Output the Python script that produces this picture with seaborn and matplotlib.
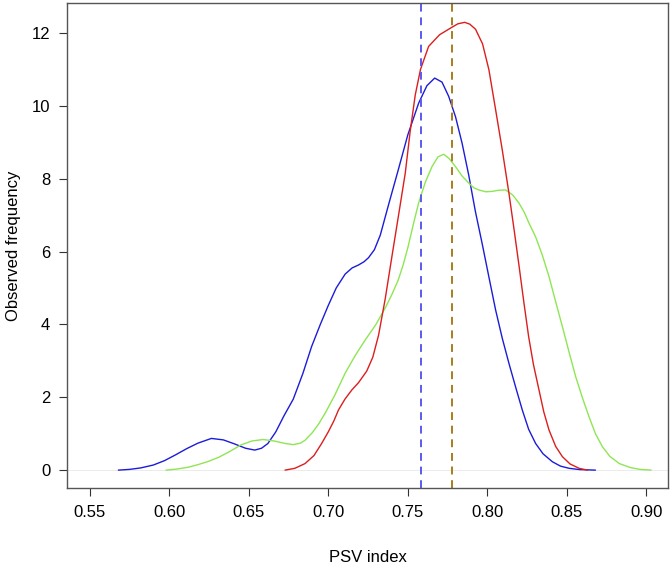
import numpy as np
import pandas as pd
import matplotlib
matplotlib.use("Agg")
import matplotlib.pyplot as plt
import seaborn as sns

# density curves (x = PSV index, y = density)
blue_x = [0.568, 0.575, 0.582, 0.590, 0.597, 0.604, 0.611, 0.618, 0.6265, 0.634,
          0.641, 0.648, 0.6538, 0.658, 0.662, 0.667, 0.672, 0.678, 0.684, 0.6895,
          0.695, 0.700, 0.705, 0.7106, 0.715, 0.719, 0.7225, 0.7253, 0.729, 0.7327,
          0.738, 0.744, 0.750, 0.7568, 0.762, 0.7669, 0.7715, 0.7757, 0.780, 0.7841,
          0.7883, 0.7925, 0.7967, 0.801, 0.8052, 0.8094, 0.8136, 0.818, 0.822, 0.826,
          0.8304, 0.835, 0.8409, 0.846, 0.8514, 0.858, 0.868]
blue_y = [0.0, 0.02, 0.06, 0.14, 0.26, 0.42, 0.59, 0.74, 0.87, 0.83,
          0.72, 0.60, 0.55, 0.60, 0.73, 1.05, 1.48, 1.95, 2.65, 3.39,
          4.0, 4.52, 5.0, 5.38, 5.55, 5.63, 5.72, 5.83, 6.05, 6.45,
          7.3, 8.24, 9.2, 10.07, 10.55, 10.76, 10.65, 10.26, 9.7, 8.98,
          8.10, 7.1, 6.23, 5.3, 4.40, 3.62, 2.93, 2.25, 1.65, 1.12,
          0.73, 0.45, 0.23, 0.11, 0.05, 0.015, 0.0]

red_x = [0.6728, 0.679, 0.6854, 0.691, 0.6958, 0.700, 0.7035, 0.7064, 0.7105, 0.7148,
         0.719, 0.7242, 0.728, 0.7316, 0.7358, 0.740, 0.7442, 0.7484, 0.7515, 0.7547,
         0.758, 0.7631, 0.770, 0.7768, 0.7815, 0.7858, 0.789, 0.7926, 0.797, 0.801,
         0.805, 0.8094, 0.8136, 0.817, 0.820, 0.823, 0.826, 0.829, 0.8325, 0.8355,
         0.8388, 0.843, 0.8472, 0.852, 0.8577, 0.863]
red_y = [0.0, 0.05, 0.18, 0.40, 0.73, 1.05, 1.35, 1.65, 1.95, 2.20,
         2.40, 2.72, 3.10, 3.70, 4.70, 5.86, 7.0, 8.15, 9.3, 10.3,
         11.0, 11.63, 11.95, 12.13, 12.25, 12.29, 12.24, 12.10, 11.7, 10.99,
         9.95, 8.79, 7.60, 6.55, 5.59, 4.60, 3.66, 2.90, 2.20, 1.60,
         1.10, 0.65, 0.37, 0.17, 0.05, 0.0]

green_x = [0.598, 0.605, 0.612, 0.618, 0.624, 0.631, 0.638, 0.645, 0.652, 0.659,
           0.666, 0.673, 0.678, 0.6825, 0.6854, 0.690, 0.694, 0.698, 0.704, 0.7106,
           0.717, 0.7232, 0.730, 0.7358, 0.740, 0.744, 0.747, 0.750, 0.7535, 0.7568,
           0.761, 0.7652, 0.769, 0.7726, 0.776, 0.780, 0.784, 0.7883, 0.7915, 0.7946,
           0.799, 0.803, 0.807, 0.8115, 0.816, 0.8199, 0.8232, 0.8262, 0.8304, 0.8346,
           0.8388, 0.843, 0.8472, 0.8514, 0.8556, 0.860, 0.864, 0.868, 0.8724, 0.877,
           0.883, 0.890, 0.896, 0.903]
green_y = [0.0, 0.03, 0.08, 0.15, 0.23, 0.35, 0.51, 0.69, 0.80, 0.84,
           0.80, 0.73, 0.70, 0.74, 0.82, 1.03, 1.27, 1.56, 2.05, 2.66,
           3.15, 3.57, 4.0, 4.45, 4.82, 5.22, 5.62, 6.1, 6.75, 7.33,
           7.90, 8.33, 8.60, 8.67, 8.55, 8.33, 8.08, 7.88, 7.75, 7.69,
           7.64, 7.65, 7.68, 7.69, 7.55, 7.33, 7.08, 6.78, 6.40, 5.90,
           5.31, 4.62, 3.94, 3.24, 2.56, 1.96, 1.46, 1.0, 0.64, 0.38,
           0.18, 0.07, 0.02, 0.0]

# means (dashed lines)
mean_blue = 0.7583
mean_red = 0.7780
mean_green = 0.7780

xticks = [0.55, 0.60, 0.65, 0.70, 0.75, 0.80, 0.85, 0.90]
yticks = [0, 2, 4, 6, 8, 10, 12]

c_blue, c_red, c_green = "#1c1cd8", "#dc1e1e", "#8ee654"

sns.set_style("white")
plt.rcParams["font.family"] = ["Liberation Sans", "DejaVu Sans"]

df = pd.concat([
    pd.DataFrame({"psv": blue_x, "dens": blue_y, "grp": "blue"}),
    pd.DataFrame({"psv": green_x, "dens": green_y, "grp": "green"}),
    pd.DataFrame({"psv": red_x, "dens": red_y, "grp": "red"}),
])

fig = plt.figure(figsize=(6.72, 5.71), dpi=100)
ax = fig.add_axes([0.0997, 0.1454, 0.8943, 0.8493])

ax.axhline(0, color="#e8e8e8", lw=0.6, zorder=0)
sns.lineplot(data=df, x="psv", y="dens", hue="grp", units="grp", estimator=None,
             sort=False, palette={"blue": c_blue, "green": c_green, "red": c_red},
             lw=1.0, legend=False, ax=ax)

ax.axvline(mean_blue, color="#5a5af0", lw=1.4, dashes=(4, 3))
ax.axvline(mean_green, color=c_green, lw=1.4, dashes=(4, 3), alpha=0.9)
ax.axvline(mean_red, color="#b05a10", lw=1.4, dashes=(4, 3), alpha=0.75)

ax.set_xlim(0.5357, 0.9136)
ax.set_ylim(-0.49, 12.82)
ax.set_xticks(xticks)
ax.set_xticklabels([f"{t:.2f}" for t in xticks])
ax.set_yticks(yticks)
ax.tick_params(direction="out", length=6, width=0.8, color="#333333",
               labelsize=12, labelcolor="black", pad=6, bottom=True, left=True)
for s in ax.spines.values():
    s.set_visible(True)
    s.set_color("#555555")
    s.set_linewidth(1.0)

ax.set_xlabel("PSV index", fontsize=12, labelpad=22, color="black")
ax.set_ylabel("Observed frequency", fontsize=12, labelpad=8, color="black")

fig.savefig("out.png", dpi=100)
